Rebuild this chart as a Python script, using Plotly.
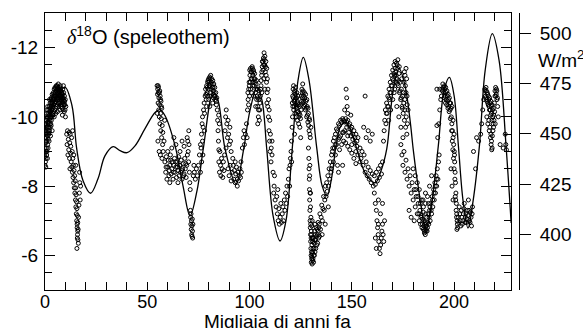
import plotly.graph_objects as go

# ---------------- insolation curve (W/m2, right axis) ----------------
ins_age = [0, 4.9, 9.8, 13.2, 15.5, 18.6, 22.3, 25.9, 29.3, 33.3, 36.7, 40.1, 44.0, 48.9,
           53.8, 56.2, 58.7, 63.6, 67.5, 70.9, 74.3, 77.4, 82.2, 84.6, 88.0, 93.4, 97.0,
           100.2, 103.7, 106.1, 108.4, 111.5, 114.9, 117.8, 120.8, 123.7, 126.3, 129.1,
           132.9, 135.5, 137.9, 140.3, 142.3, 144.7, 147.2, 149.6, 152.4, 156.5, 161.4,
           164.3, 167.1, 170.2, 173.1, 176.0, 178.5, 180.1, 182.4, 186.3, 189.2, 192.3,
           195.1, 197.7, 200.0, 202.1, 204.4, 206.8, 209.3, 212.4, 215.2, 218.7, 222.0,
           225.4, 227.9]
ins_wm2 = [451.6, 466.6, 473.2, 464.0, 442.6, 426.6, 420.4, 427.6, 439.0, 443.6, 441.6, 440.6,
           444.0, 452.6, 460.6, 462.1, 459.0, 444.0, 424.0, 409.2, 421.6, 442.6, 470.6, 466.6,
           442.6, 425.1, 441.6, 461.6, 473.2, 466.6, 442.6, 409.2, 396.6, 406.6, 441.6, 476.6,
           488.1, 476.6, 442.6, 424.1, 419.1, 429.1, 444.1, 454.1, 455.6, 451.6, 442.6, 430.6,
           425.6, 431.6, 442.6, 471.6, 482.6, 474.0, 456.6, 441.6, 424.1, 402.6, 416.6, 444.1,
           471.6, 478.1, 469.1, 444.1, 416.6, 403.1, 416.6, 444.1, 481.6, 499.9, 486.6, 444.1,
           405.6]

# ---------------- speleothem d18O data, [age ka, d18O] ----------------
seg_holocene = [[0.0,-8.6],[0.0,-8.85],[0.1,-9.1],[0.2,-8.7],[0.3,-9.0],[0.4,-9.25],[0.5,-8.8],
    [0.6,-9.4],[0.7,-9.1],[0.8,-9.55],[0.9,-9.3],[1.0,-9.0],[1.1,-9.7],[1.2,-9.45],[1.3,-9.2],
    [1.4,-9.85],[1.5,-9.6],[1.6,-9.35],[1.7,-9.95],[1.8,-9.7],[1.9,-9.5],[2.0,-10.05],[2.1,-9.8],
    [2.2,-9.6],[2.3,-10.15],[2.4,-9.9],[2.5,-9.7],[2.6,-10.25],[2.7,-10.0],[2.8,-9.8],[2.9,-10.3],
    [3.0,-10.1],[3.1,-9.9],[3.2,-10.4],[3.3,-10.2],[3.4,-10.0],[3.5,-10.45],[3.6,-10.25],
    [3.7,-10.05],[3.8,-10.5],[3.9,-10.3],[4.0,-10.1],[4.2,-10.55],[4.3,-10.35],[4.4,-10.15],
    [4.6,-10.6],[4.7,-10.4],[4.8,-10.2],[5.0,-10.7],[5.1,-10.45],[5.2,-10.25],[5.4,-10.75],
    [5.5,-10.5],[5.6,-10.3],[5.8,-10.8],[5.9,-10.55],[6.0,-10.35],[6.2,-10.85],[6.3,-10.6],
    [6.4,-10.4],[6.6,-10.8],[6.7,-10.55],[6.8,-10.3],[7.0,-10.85],[7.1,-10.65],[7.2,-10.45],
    [7.4,-10.8],[7.5,-10.6],[7.6,-10.35],[7.8,-10.75],[7.9,-10.5],[8.0,-10.3],[8.2,-10.7],
    [8.3,-10.45],[8.4,-10.25],[8.6,-10.65],[8.7,-10.4],[8.8,-10.2],[9.0,-10.55],[9.2,-10.35],
    [9.4,-10.15],[9.6,-10.45],[9.8,-10.2],[10.0,-10.0],[10.2,-10.3],[1.0,-10.2],[2.2,-10.5],
    [0.5,-9.7],[3.5,-9.6],[9.0,-10.9],[6.5,-10.95],[0.3,-9.6],[0.6,-9.9],[0.9,-10.1],
    [1.3,-10.3],[0.2,-9.4],[0.8,-8.9],[1.5,-9.1],[0.4,-8.55],[1.2,-8.8],[2.0,-9.3],[2.7,-9.45],
    [4.5,-10.0],[5.3,-10.1],[6.1,-10.15],[7.3,-10.2],[8.5,-10.05],[3.0,-9.75]]

seg_holocene_b = [[0.1,-8.95],[0.3,-9.3],[0.5,-9.5],[0.7,-9.75],[0.9,-9.9],[1.1,-10.0],[1.3,-9.55],
    [1.5,-9.85],[1.7,-10.1],[1.9,-10.2],[2.1,-10.3],[2.3,-9.95],[2.5,-10.4],[2.7,-10.15],
    [2.9,-10.5],[3.1,-10.55],[3.3,-10.35],[3.5,-10.65],[3.7,-10.4],[3.9,-10.6],[4.1,-10.7],
    [4.3,-10.5],[4.5,-10.8],[4.7,-10.65],[4.9,-10.85],[5.1,-10.6],[5.3,-10.8],[5.5,-10.9],
    [5.7,-10.65],[5.9,-10.9],[6.1,-10.7],[6.3,-10.8],[6.5,-10.5],[6.7,-10.7],[6.9,-10.6],
    [7.1,-10.4],[7.3,-10.75],[7.5,-10.9],[7.7,-10.55],[7.9,-10.7],[8.1,-10.6],[8.3,-10.35],
    [8.5,-10.55],[8.7,-10.8],[8.9,-10.5],[9.1,-10.7],[9.3,-10.45],[9.5,-10.6],[9.7,-10.35],
    [9.9,-10.5]]

seg_lgm = [[10.6,-9.5],[10.8,-9.2],[11.0,-9.6],[11.2,-8.9],[11.4,-9.35],[11.6,-9.05],[11.8,-9.55],
    [12.0,-8.8],[12.1,-9.25],[12.3,-9.5],[12.5,-8.95],[12.6,-9.15],[12.8,-8.7],[13.0,-9.4],
    [13.1,-8.55],[13.3,-9.0],[13.4,-8.4],[13.6,-8.8],[13.7,-8.25],[13.9,-8.6],[14.0,-8.1],
    [14.2,-8.45],[14.3,-7.95],[14.5,-8.3],[14.6,-7.8],[14.8,-8.15],[14.9,-7.6],[15.0,-7.95],
    [15.1,-7.4],[15.2,-7.75],[15.3,-7.2],[15.4,-7.55],[15.5,-7.0],[15.6,-7.35],[15.7,-6.8],
    [15.8,-7.15],[15.9,-6.6],[16.0,-6.95],[16.1,-6.45],[16.2,-6.75],[16.3,-6.35],[16.4,-7.1],
    [15.6,-6.2],[16.6,-7.45],[16.8,-7.8],[17.0,-8.1],[17.2,-7.6],[16.9,-8.4],[17.4,-8.0],
    [14.1,-8.9],[15.0,-8.6],[13.5,-9.6],[12.2,-8.5],[15.8,-6.5],[16.0,-6.7],[15.7,-6.9]]

seg_mis3 = [[54.8,-10.9],[55.0,-10.65],[55.1,-10.8],[55.3,-10.4],[55.4,-10.7],[55.6,-10.2],
    [55.7,-10.55],[55.9,-10.0],[56.0,-10.35],[56.2,-9.8],[56.3,-10.6],[56.5,-10.1],[56.6,-9.6],
    [56.8,-9.95],[57.0,-9.4],[57.1,-10.25],[57.3,-9.75],[57.5,-9.2],[57.6,-9.55],[57.8,-9.0],
    [55.2,-9.3],[55.8,-9.0],[56.4,-8.9],[57.2,-8.8],[58.2,-9.3],[58.5,-9.9],[54.9,-10.1],
    [55.5,-10.85],[56.1,-10.75],[56.7,-10.45],[55.3,-10.9],[55.9,-10.7],[56.5,-10.5],[56.9,-10.3]]

seg_mis4 = [[58.6,-8.7],[59.0,-8.4],[59.3,-8.85],[59.6,-8.2],[60.0,-8.55],[60.3,-8.75],[60.6,-8.3],
    [61.0,-8.6],[61.3,-8.9],[61.6,-8.35],[62.0,-8.5],[62.3,-8.7],[62.6,-8.2],[63.0,-8.6],
    [63.3,-8.8],[63.6,-8.4],[64.0,-8.55],[64.3,-8.25],[64.6,-8.7],[65.0,-8.45],[65.3,-8.85],
    [65.6,-8.3],[66.0,-8.6],[66.3,-8.4],[66.6,-8.75],[67.0,-8.2],[67.3,-8.5],[67.6,-8.65],
    [68.0,-8.35],[68.3,-8.8],[68.6,-8.5],[69.0,-8.25],[69.3,-8.6],[69.6,-8.9],[60.0,-9.0],
    [62.0,-9.1],[64.0,-9.2],[66.0,-9.0],[68.0,-9.15],[61.0,-8.1],[65.0,-8.1],[63.0,-9.4],
    [67.0,-9.3],[69.8,-9.3],[70.0,-9.0],[70.2,-8.7],[70.4,-9.2],[70.6,-8.4],[70.8,-8.1],
    [71.0,-7.9],[71.1,-7.3],[71.2,-7.1],[71.3,-6.9],[71.4,-7.2],[71.5,-6.75],[71.6,-7.0],
    [71.7,-6.6],[71.8,-6.85],[71.9,-6.55],[72.0,-7.05],[72.1,-6.7],[72.2,-6.5],[72.3,-6.9],
    [69.5,-9.4],[70.3,-9.6],[72.5,-8.3],[72.8,-8.6],[73.0,-8.4],[73.5,-8.2],[74.0,-8.5],
    [74.5,-8.3],[75.0,-8.6],[75.5,-8.9],[76.0,-8.4],[76.3,-9.1],[76.6,-8.7],[77.0,-9.3],
    [77.2,-8.9],[59.2,-8.55],[60.8,-8.45],[62.8,-8.4],[64.8,-8.55],[66.8,-8.45],[68.8,-8.65],
    [61.4,-8.75],[63.8,-8.7],[65.8,-8.6],[67.8,-8.3]]

seg_mis5a = [[76.5,-9.5],[76.8,-9.8],[77.0,-10.0],[77.3,-9.7],[77.5,-10.2],[77.8,-10.4],[78.0,-10.1],
    [78.3,-10.6],[78.5,-10.8],[78.8,-10.5],[79.0,-10.9],[79.3,-10.7],[79.5,-11.0],[79.8,-10.8],
    [80.0,-11.1],[80.3,-10.9],[80.5,-11.15],[80.8,-10.95],[81.0,-11.2],[81.3,-11.0],[81.5,-11.1],
    [81.8,-10.85],[82.0,-11.05],[82.3,-10.75],[82.5,-10.95],[82.8,-10.6],[83.0,-10.85],
    [83.3,-10.5],[83.5,-10.7],[83.8,-10.35],[84.0,-10.55],[84.2,-10.2],[84.4,-9.9],[84.6,-9.6],
    [84.8,-9.3],[85.0,-9.05],[85.2,-9.8],[84.9,-10.05],[79.0,-10.3],[80.0,-10.5],[81.0,-10.6],
    [82.0,-10.4],[78.0,-9.6],[76.0,-9.2],[80.5,-10.3],[88.0,-9.6],[88.3,-10.0],[88.6,-10.2],
    [88.9,-9.8],[89.2,-9.4],[89.5,-9.9],[89.8,-9.5],[90.1,-9.2],[90.4,-9.7],[90.7,-9.3],
    [91.0,-9.0],[88.5,-9.1],[78.7,-10.65],[79.2,-10.85],[79.7,-11.05],[80.2,-11.0],[80.7,-11.1],
    [81.2,-10.8],[81.7,-10.95],[82.2,-10.85],[82.7,-10.7],[83.2,-10.6],[83.7,-10.45],
    [79.5,-10.6],[80.8,-10.7],[82.4,-10.55]]

seg_mis5b = [[85.0,-8.7],[85.3,-8.4],[85.5,-9.0],[85.8,-8.6],[86.0,-8.3],[86.3,-8.8],[86.6,-8.5],
    [86.9,-8.25],[87.2,-8.7],[87.5,-8.45],[87.8,-8.9],[89.5,-8.5],[90.0,-8.3],[90.5,-8.6],
    [91.0,-8.15],[91.5,-8.4],[92.0,-8.6],[92.3,-8.2],[92.6,-8.45],[93.0,-8.1],[93.3,-8.35],
    [93.6,-8.55],[94.0,-8.2],[94.3,-8.4],[94.6,-8.15],[95.0,-8.3],[95.3,-8.5],[95.6,-8.25],
    [96.0,-8.4],[93.0,-8.7],[94.0,-8.0],[91.8,-8.8],[95.8,-8.7],[96.5,-9.1],[97.0,-9.4],
    [97.3,-9.6]]

seg_mis5c = [[97.5,-9.2],[98.0,-9.5],[98.5,-9.8],[98.8,-9.4],[99.0,-10.2],[99.3,-10.5],[99.6,-10.8],
    [99.8,-11.0],[100.0,-10.6],[100.2,-11.2],[100.5,-11.4],[100.8,-11.1],[101.0,-11.3],
    [101.3,-11.45],[101.6,-11.2],[101.9,-11.35],[102.2,-11.1],[102.5,-11.25],[102.8,-11.0],
    [103.1,-10.8],[103.4,-11.05],[103.7,-10.6],[104.0,-10.3],[104.3,-10.0],[104.5,-10.5],
    [104.8,-9.9],[105.0,-10.2],[105.3,-10.6],[105.6,-10.9],[105.9,-11.2],[106.2,-11.45],
    [106.5,-11.6],[106.8,-11.7],[107.1,-11.85],[107.4,-11.5],[107.7,-11.3],[108.0,-11.6],
    [108.3,-11.0],[108.6,-10.7],[108.9,-10.3],[109.2,-10.0],[109.5,-9.6],[109.8,-9.3],
    [110.2,-9.5],[110.6,-9.1],[111.0,-9.3],[100.5,-10.8],[101.5,-10.9],[102.0,-10.6],
    [103.0,-10.3],[104.0,-9.8],[106.0,-10.7],[107.0,-11.1],[107.5,-10.8],[108.5,-10.4]]

seg_mis5c_b = [[99.2,-10.7],[99.5,-10.35],[99.9,-10.9],[100.1,-11.35],[100.4,-11.0],[100.7,-11.3],
    [100.9,-10.7],[101.2,-11.1],[101.4,-11.4],[101.7,-11.0],[102.0,-11.3],[102.3,-10.9],
    [102.6,-11.1],[102.9,-10.7],[103.2,-10.95],[103.5,-10.5],[103.8,-10.8],[104.1,-10.55],
    [104.4,-10.2],[104.7,-10.75],[105.1,-10.4],[105.4,-10.8],[105.7,-11.05],[106.0,-11.3],
    [106.3,-11.6],[106.6,-11.35],[106.9,-11.5],[107.2,-11.65],[107.5,-11.75],[107.8,-11.45],
    [108.1,-11.2],[108.4,-11.4],[108.7,-11.1],[109.0,-10.8],[109.3,-10.5],[109.6,-10.2],
    [109.9,-9.9]]

seg_mis5d = [[110.0,-9.0],[110.5,-8.7],[111.0,-8.9],[111.5,-8.4],[112.0,-8.0],[112.5,-7.6],
    [113.0,-7.4],[113.3,-7.7],[113.6,-7.2],[114.0,-7.0],[114.3,-7.35],[114.6,-6.9],[115.0,-7.1],
    [115.3,-7.5],[115.6,-6.95],[116.0,-7.2],[116.3,-7.4],[116.6,-7.0],[117.0,-7.6],[117.3,-7.3],
    [117.6,-7.8],[118.0,-7.5],[118.3,-8.0],[118.6,-7.7],[119.0,-8.2],[119.3,-8.5],[119.6,-8.0],
    [120.0,-8.8],[112.2,-8.3],[113.8,-7.9],[111.8,-7.8],[120.3,-9.0],[119.8,-8.6],[120.6,-8.7]]

seg_mis5e = [[120.5,-9.3],[120.8,-9.7],[121.0,-10.0],[121.2,-10.3],[121.4,-10.55],[121.6,-10.2],
    [121.8,-10.7],[122.0,-10.45],[122.2,-10.1],[122.4,-10.65],[122.6,-10.35],[122.8,-10.0],
    [123.0,-10.55],[123.2,-10.25],[123.4,-9.9],[123.6,-10.4],[123.8,-10.15],[124.0,-9.8],
    [124.3,-10.1],[124.6,-9.7],[124.9,-9.95],[125.2,-10.2],[125.5,-10.45],[125.8,-10.7],
    [126.1,-10.4],[126.4,-10.6],[126.7,-10.3],[127.0,-10.55],[127.3,-10.2],[127.6,-10.45],
    [127.9,-10.0],[128.2,-10.3],[128.5,-9.85],[128.8,-10.1],[129.1,-9.6],[129.4,-9.9],
    [129.7,-9.4],[130.0,-9.7],[121.5,-10.9],[126.0,-10.95],[122.0,-9.5],[125.0,-9.4]]

seg_mis5e_b = [[120.9,-10.4],[121.1,-10.6],[121.3,-10.8],[121.7,-10.45],[121.9,-10.3],[122.1,-10.75],
    [122.3,-10.5],[122.5,-10.85],[122.7,-10.55],[122.9,-10.3],[123.1,-10.7],[123.3,-10.45],
    [123.5,-10.15],[123.7,-10.6],[123.9,-10.35],[124.1,-10.0],[124.4,-10.3],[124.7,-10.05],
    [125.0,-10.35],[125.3,-10.6],[125.6,-10.8],[125.9,-10.55],[126.2,-10.75],[126.5,-10.45],
    [126.8,-10.7],[127.1,-10.35],[127.4,-10.65],[127.7,-10.25],[128.0,-10.5],[128.3,-10.05],
    [128.6,-10.25],[128.9,-9.75],[129.2,-9.95],[129.5,-9.5]]

seg_mis6a = [[128.8,-9.1],[129.0,-8.8],[129.1,-8.5],[129.2,-8.2],[129.3,-7.9],[129.4,-7.6],
    [129.5,-7.3],[129.6,-7.0],[129.7,-6.8],[129.8,-6.6],[129.9,-6.4],[130.0,-6.2],[130.1,-6.0],
    [130.2,-5.8],[130.3,-6.1],[130.4,-5.9],[130.5,-6.3],[130.6,-5.75],[130.7,-6.05],[130.8,-6.4],
    [130.9,-5.85],[131.0,-6.2],[131.2,-6.5],[131.4,-6.0],[131.6,-6.35],[131.8,-6.7],[132.0,-6.1],
    [132.3,-6.45],[132.6,-6.8],[132.9,-6.3],[133.2,-6.6],[133.5,-6.95],[133.8,-6.5],[134.1,-6.9],
    [134.4,-7.2],[134.7,-6.75],[135.0,-7.1],[135.3,-7.45],[135.6,-7.0],[135.9,-7.35],[136.2,-7.7],
    [136.5,-7.3],[136.8,-7.6],[137.1,-8.0],[137.4,-7.7],[137.7,-8.1],[138.0,-7.85],[138.3,-8.3],
    [138.6,-8.0],[138.9,-8.5],[139.2,-8.2],[139.5,-8.7],[139.8,-8.4],[140.1,-8.9],[140.4,-8.6],
    [140.7,-9.1],[129.5,-8.6],[129.8,-7.8],[130.0,-7.1],[130.2,-6.7],[131.0,-5.9],[132.0,-6.9],
    [135.5,-6.6],[137.0,-6.9],[138.5,-7.4],[129.9,-6.9],[130.1,-6.5],[130.3,-6.6],[130.5,-5.95],
    [130.7,-6.5],[130.9,-6.1],[131.1,-6.4],[131.3,-5.8],[131.5,-6.2],[131.7,-6.0],[131.9,-6.45],
    [132.1,-6.6],[132.4,-6.2],[132.7,-6.55],[133.0,-6.75],[133.3,-6.35],[133.6,-6.7],[133.9,-6.8],
    [134.2,-6.55],[129.4,-8.3],[129.6,-7.8],[129.8,-7.4],[130.4,-6.85],[130.6,-7.0]]

seg_mis6b = [[140.5,-9.0],[141.0,-9.3],[141.5,-9.1],[142.0,-9.5],[142.5,-9.2],[143.0,-9.6],
    [143.5,-9.35],[144.0,-9.75],[144.5,-9.45],[145.0,-9.85],[145.5,-9.55],[146.0,-9.9],
    [146.5,-9.6],[147.0,-9.95],[147.5,-9.7],[148.0,-9.9],[148.5,-9.55],[149.0,-9.8],[149.5,-9.45],
    [150.0,-9.7],[150.5,-9.35],[151.0,-9.6],[151.5,-9.25],[152.0,-9.5],[152.5,-9.15],[153.0,-9.4],
    [141.0,-8.7],[142.0,-8.9],[143.0,-8.6],[144.0,-9.05],[145.0,-9.2],[146.0,-9.3],[147.0,-9.25],
    [148.0,-9.15],[149.0,-9.05],[150.0,-8.95],[151.0,-8.8],[152.0,-8.65],[153.0,-8.9],
    [154.0,-8.7],[147.2,-10.8],[147.5,-10.55],[147.7,-10.3],[148.0,-10.1],[146.5,-10.2],
    [149.5,-10.05],[143.5,-8.4],[145.5,-8.6],[140.0,-8.5],[141.5,-9.4],[142.5,-9.65],
    [143.5,-9.8],[144.5,-9.9],[145.5,-9.95],[146.5,-9.85],[147.5,-9.85],[148.5,-9.75],
    [149.5,-9.65],[150.5,-9.5],[151.5,-9.4],[152.5,-9.3],[142.0,-9.2],[144.0,-9.4],[146.0,-9.55],
    [148.0,-9.45],[150.0,-9.2],[152.0,-9.0]]

seg_mis6c = [[154.0,-9.1],[154.5,-8.8],[155.0,-9.0],[155.5,-8.6],[156.0,-8.9],[156.5,-8.4],
    [157.0,-8.7],[157.5,-8.3],[158.0,-8.55],[158.5,-8.2],[159.0,-8.45],[159.5,-8.1],[160.0,-8.35],
    [160.5,-8.0],[161.0,-8.3],[161.5,-8.05],[162.0,-8.4],[162.5,-8.15],[163.0,-8.5],[163.5,-8.25],
    [164.0,-8.6],[164.5,-8.35],[165.0,-8.7],[156.5,-10.6],[155.8,-9.7],[157.0,-9.4],[158.0,-9.6],
    [159.0,-9.3],[160.0,-9.5],[161.0,-7.8],[161.5,-7.5],[162.0,-7.3],[162.3,-7.0],[162.6,-6.8],
    [162.9,-6.6],[163.2,-6.4],[163.5,-6.2],[163.8,-6.05],[164.1,-6.3],[164.4,-6.5],[164.7,-6.7],
    [165.0,-6.9],[165.3,-6.6],[165.6,-6.4],[162.0,-6.2],[163.0,-6.9],[164.0,-7.2],[165.0,-7.5],
    [166.0,-7.0],[161.5,-6.5],[163.0,-7.6]]

seg_mis6d = [[165.5,-9.3],[165.8,-9.6],[166.1,-9.9],[166.4,-10.2],[166.7,-9.8],[167.0,-10.4],
    [167.3,-10.1],[167.6,-10.6],[167.9,-10.3],[168.2,-10.8],[168.5,-10.5],[168.8,-11.0],
    [169.1,-10.7],[169.4,-11.2],[169.7,-10.9],[170.0,-11.35],[170.3,-11.05],[170.6,-11.5],
    [170.9,-11.2],[171.2,-11.6],[171.5,-11.3],[171.8,-11.55],[172.1,-11.1],[172.4,-11.4],
    [172.7,-10.9],[173.0,-11.25],[173.3,-10.7],[173.6,-11.0],[173.9,-10.5],[174.2,-10.8],
    [174.5,-10.3],[174.8,-10.6],[175.1,-10.1],[175.4,-10.4],[175.7,-9.9],[176.0,-10.2],
    [176.3,-9.7],[176.6,-10.0],[176.9,-9.5],[177.2,-9.8],[170.0,-10.5],[171.0,-10.8],[172.0,-10.3],
    [173.0,-10.0],[174.0,-9.7],[169.0,-10.2],[168.0,-9.9],[175.0,-9.4],[172.5,-11.65],
    [176.0,-11.2],[177.0,-10.6],[176.5,-11.4],[175.5,-11.0],[177.5,-10.2],[166.9,-10.1],
    [167.5,-10.3],[168.1,-10.55],[168.7,-10.7],[169.3,-10.9],[169.9,-11.1],[170.5,-11.25],
    [171.1,-11.4],[171.7,-11.2],[172.3,-10.95],[172.9,-11.05],[173.5,-10.75],[174.1,-10.55],
    [174.7,-10.25],[175.3,-10.7],[175.9,-10.5],[176.5,-10.7],[177.1,-10.35],[176.2,-10.9],
    [170.7,-10.7],[171.4,-11.0],[172.2,-11.5],[173.2,-11.45],[174.4,-11.1],[175.7,-11.3],
    [176.8,-11.1]]

seg_mis6e = [[174.0,-9.2],[174.5,-8.9],[175.0,-8.6],[175.5,-9.0],[176.0,-8.4],[176.5,-8.75],
    [177.0,-8.2],[177.5,-8.5],[178.0,-8.0],[178.5,-8.3],[179.0,-7.8],[179.5,-8.1],[180.0,-7.6],
    [180.5,-7.9],[181.0,-7.4],[181.5,-7.7],[182.0,-7.2],[182.5,-7.5],[183.0,-7.0],[183.3,-7.3],
    [183.6,-6.9],[184.0,-7.15],[184.3,-6.8],[184.6,-7.05],[185.0,-6.75],[185.3,-7.0],[185.6,-6.7],
    [186.0,-6.95],[186.3,-6.7],[186.6,-7.1],[187.0,-6.8],[187.3,-7.2],[187.6,-6.9],[188.0,-7.3],
    [188.3,-7.0],[188.6,-7.5],[189.0,-7.2],[189.3,-7.7],[189.6,-7.4],[190.0,-7.9],[190.3,-7.6],
    [190.6,-8.1],[190.9,-7.8],[191.2,-8.3],[191.5,-8.0],[191.8,-8.5],[192.1,-8.2],[192.4,-8.7],
    [192.7,-8.9],[185.0,-7.4],[186.0,-7.5],[184.0,-7.6],[187.0,-7.7],[183.0,-7.9],[182.0,-8.1],
    [181.0,-8.3],[180.0,-8.5],[188.0,-8.0],[189.0,-8.3],[185.5,-6.65],[186.8,-6.7],[178.0,-7.3],
    [179.0,-7.1],[180.5,-7.0],[182.8,-7.2],[183.8,-7.1],[184.5,-6.9],[184.9,-7.25],[185.2,-6.85],
    [185.8,-6.9],[186.2,-7.2],[186.5,-6.85],[187.2,-6.95],[187.8,-7.1],[188.2,-7.4],[188.8,-7.3],
    [189.5,-7.6],[190.2,-7.8],[190.8,-8.0],[191.4,-8.2],[183.5,-7.5],[184.8,-7.6],[186.0,-7.8],
    [187.5,-7.5],[182.3,-7.7],[181.3,-7.9],[185.9,-6.6],[186.4,-6.75]]

seg_mis7a = [[192.0,-9.4],[192.5,-9.8],[193.0,-10.2],[193.5,-10.5],[194.0,-10.8],[194.5,-10.95],
    [195.0,-10.7],[195.3,-10.9],[195.6,-10.6],[195.9,-10.85],[196.2,-10.5],[196.5,-10.75],
    [196.8,-10.45],[197.1,-10.65],[197.4,-10.3],[197.7,-10.55],[198.0,-10.2],[198.3,-10.4],
    [198.6,-10.0],[198.9,-9.8],[199.2,-9.6],[199.5,-9.4],[199.8,-9.2],[200.1,-9.0],[200.3,-8.7],
    [200.5,-8.4],[200.7,-8.1],[200.9,-7.8],[201.1,-7.5],[201.3,-7.2],[201.5,-7.0],[201.7,-6.8],
    [199.0,-10.3],[199.5,-9.9],[200.0,-9.5],[200.2,-8.9],[200.6,-7.7],[201.0,-7.3],[201.4,-6.75],
    [202.0,-7.1],[202.5,-7.4],[203.0,-7.0],[203.5,-7.3],[204.0,-6.9],[204.5,-7.2],[205.0,-7.5],
    [205.5,-7.1],[206.0,-6.95],[206.5,-7.3],[207.0,-7.6],[207.5,-7.0],[208.0,-7.25],[208.5,-6.85],
    [209.0,-7.4],[193.0,-10.8],[191.6,-10.8],[191.6,-9.75],[198.5,-8.5],[199.0,-8.0],[199.5,-7.6],
    [209.5,-9.0],[210.5,-8.5],[193.8,-10.6],[194.3,-10.75],[194.8,-10.85],[195.1,-10.55],
    [195.5,-10.8],[195.8,-10.4],[196.1,-10.7],[196.4,-10.35],[196.7,-10.6],[197.0,-10.25],
    [197.3,-10.5],[197.6,-10.15],[197.9,-10.4],[198.2,-9.95],[198.5,-10.25],[198.8,-9.6],
    [199.1,-9.3],[199.4,-9.05],[199.7,-8.8],[200.0,-8.5],[200.4,-8.2],[200.8,-7.6],[201.2,-7.1],
    [201.6,-6.9],[202.2,-6.95],[202.8,-7.2],[203.3,-6.85],[203.8,-7.1],[204.3,-7.0],[204.8,-7.35],
    [205.3,-6.95],[205.8,-7.2],[206.3,-7.05],[206.8,-7.15],[207.3,-7.3],[207.8,-6.95],
    [208.3,-7.1],[208.8,-7.2]]

seg_mis7b = [[211.0,-9.4],[212.0,-9.3],[213.0,-9.5],[213.5,-9.8],[214.0,-10.2],[214.5,-10.5],
    [215.0,-10.8],[215.3,-10.6],[215.6,-10.85],[215.9,-10.5],[216.2,-10.7],[216.5,-10.4],
    [216.8,-10.6],[217.1,-10.3],[217.4,-10.55],[217.7,-10.2],[218.0,-10.45],[218.3,-10.1],
    [218.6,-10.35],[218.9,-10.0],[219.2,-10.25],[219.5,-9.9],[219.8,-10.15],[220.1,-9.8],
    [220.4,-10.6],[220.7,-10.8],[221.0,-10.5],[221.3,-10.3],[221.6,-10.0],[217.0,-9.9],
    [217.5,-9.7],[218.0,-9.5],[218.3,-9.3],[218.6,-9.1],[219.0,-9.6],[216.0,-10.0],[216.5,-9.8],
    [220.0,-10.75],[225.0,-9.5],[225.3,-9.2],[225.6,-9.05],[224.0,-9.1],[222.5,-9.2],
    [215.2,-10.75],[215.5,-10.55],[215.8,-10.75],[216.1,-10.45],[216.4,-10.65],[216.7,-10.35],
    [217.0,-10.5],[217.3,-10.2],[217.6,-10.4],[217.9,-10.05],[218.2,-10.3],[218.5,-9.9],
    [218.8,-10.2],[219.1,-9.8],[219.4,-10.05],[219.7,-10.4],[220.0,-10.6],[220.3,-10.85],
    [220.6,-10.65],[220.9,-10.75],[221.2,-10.55],[217.2,-9.6],[217.8,-9.4],[218.1,-9.2],
    [218.4,-9.05],[218.7,-9.45],[219.3,-9.7]]

segments = [seg_holocene, seg_holocene_b, seg_lgm, seg_mis3, seg_mis4, seg_mis5a, seg_mis5b,
            seg_mis5c, seg_mis5c_b, seg_mis5d, seg_mis5e, seg_mis5e_b, seg_mis6a, seg_mis6b,
            seg_mis6c, seg_mis6d, seg_mis6e, seg_mis7a, seg_mis7b]

x_ticks = [0, 50, 100, 150, 200]
y_ticks = [-12, -10, -8, -6]
y_ticklabels = ["-12", "-10", "-8", "-6"]
y2_ticks = [400, 425, 450, 475, 500]

spel_age = [p[0] for s in segments for p in s]
spel_d18o = [p[1] for s in segments for p in s]

FONT = "Liberation Sans, Arial, Helvetica, sans-serif"

fig = go.Figure()
fig.add_trace(go.Scatter(
    x=spel_age, y=spel_d18o, mode="markers",
    marker=dict(symbol="circle-open", size=4, color="black", line=dict(width=1, color="black")),
    yaxis="y", showlegend=False, hoverinfo="skip"))
fig.add_trace(go.Scatter(
    x=ins_age, y=ins_wm2, mode="lines",
    line=dict(color="black", width=1.3, shape="spline", smoothing=1.0),
    yaxis="y2", showlegend=False, hoverinfo="skip"))

fig.update_layout(
    width=583, height=328,
    margin=dict(l=45, r=64, t=13, b=38, autoexpand=False),
    paper_bgcolor="white", plot_bgcolor="white",
    font=dict(family=FONT, size=19, color="black"),
    xaxis=dict(domain=[0, 0.983], range=[0, 227.8], tickvals=x_ticks, automargin=False,
               ticks="inside", ticklen=8, tickwidth=1, tickcolor="black",
               minor=dict(dtick=10, tick0=0, ticks="inside", ticklen=5, tickcolor="black"),
               showline=True, linecolor="black", linewidth=1, mirror="allticks",
               showgrid=False, zeroline=False, ticklabelstandoff=-5,
               tickfont=dict(size=18)),
    yaxis=dict(range=[-5.0, -13.0], tickvals=y_ticks, ticktext=y_ticklabels, automargin=False,
               ticks="inside", ticklen=10, tickwidth=1, tickcolor="black",
               minor=dict(dtick=0.5, tick0=-13, ticks="inside", ticklen=7, tickcolor="black"),
               showline=True, linecolor="black", linewidth=1, mirror="allticks",
               showgrid=False, zeroline=False, ticklabelstandoff=2, tickfont=dict(size=19)),
    yaxis2=dict(range=[372.2, 510.2], tickvals=y2_ticks, overlaying="y", side="right",
                anchor="free", position=1.0, automargin=False,
                ticks="outside", ticklen=11, tickwidth=1, tickcolor="black",
                showline=True, linecolor="black", linewidth=1, ticklabelstandoff=5,
                showgrid=False, zeroline=False, tickfont=dict(size=19)),
)

# x-axis title (placed as text just under the tick labels, as in the original)
fig.add_annotation(xref="paper", yref="paper", x=0.49, y=-0.070, xanchor="center", yanchor="top",
                   text="Migliaia di anni fa", showarrow=False, font=dict(size=19, family=FONT))
fig.add_annotation(xref="paper", yref="paper", x=0.042, y=0.917, xanchor="left", yanchor="middle",
                   text="<span style=\"font-family:'Liberation Serif'\"><i>δ</i></span><sup>18</sup>O (speleothem)",
                   showarrow=False, font=dict(size=20, family=FONT))
fig.add_annotation(xref="paper", yref="paper", x=1.036, y=0.834, xanchor="left", yanchor="middle",
                   text="W/m<sup>2</sup>", showarrow=False, font=dict(size=19, family=FONT))

fig.write_html("out.html", config={"displayModeBar": False},
               post_script="document.body.style.margin='0px';")
